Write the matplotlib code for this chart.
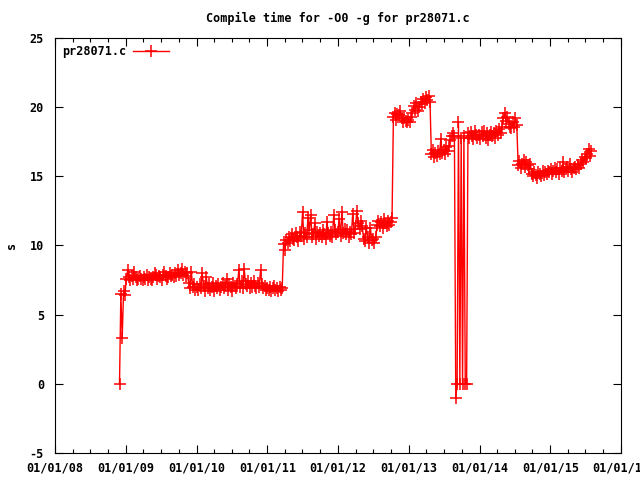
import pandas as pd
import numpy as np
import matplotlib.pyplot as plt
import matplotlib.dates as mdates

# weekly compile times (s), one list per year
start_2008 = "2008-11-29"
t_2008 = [0.0, 6.5, 3.3, 6.7, 6.4]

start_2009 = "2009-01-03"
t_2009 = [7.6, 8.2, 7.7, 7.5, 7.8, 7.6, 8.1, 7.7, 7.5, 7.6,
          7.8, 7.6, 7.5, 7.7, 7.6, 7.9, 7.5, 7.7, 7.6, 7.5,
          7.7, 8.0, 7.9, 7.6, 7.8, 7.7, 7.5, 7.9, 8.1, 7.8,
          7.6, 7.7, 8.0, 7.8, 7.9, 7.7, 8.0, 7.8, 8.2, 7.9,
          8.0, 8.3, 7.9, 8.1, 7.8, 8.0,
          7.3, 6.9, 8.1, 7.0, 7.2, 6.8]

start_2010 = "2010-01-02"
t_2010 = [7.0, 6.8, 7.2, 6.9, 8.0, 7.1, 6.7, 7.7, 6.9, 7.2,
          6.8, 7.0, 7.3, 6.7, 7.1, 6.9, 7.2, 6.8, 7.0, 7.3,
          6.9, 7.1, 7.6, 6.8, 7.2, 7.0, 6.7, 7.3, 7.1, 6.9,
          7.2, 8.2, 7.0, 7.4, 6.9, 8.3, 7.2, 7.1, 7.4, 6.9,
          7.3, 7.0, 7.4, 7.1, 6.9, 7.3, 7.0, 8.2, 7.2, 6.9,
          7.1, 6.8]

start_2011 = "2011-01-01"
t_2011 = [6.9, 6.8, 7.0, 6.7, 6.9, 7.1, 6.8, 6.9, 6.7, 7.0, 6.8, 6.9,
          10.1, 9.7, 10.4, 10.2, 10.6, 10.3, 10.8, 10.5,
          10.4, 10.9, 10.6, 10.3, 11.0, 10.7, 12.4, 10.5, 10.9, 10.6,
          12.0, 11.1, 12.2, 10.6, 10.8, 11.6, 10.5, 11.0, 10.7, 10.9,
          10.6, 11.1, 10.8, 10.5, 11.7, 10.9, 10.7, 11.0, 10.6, 12.2, 11.1, 10.8]

start_2012 = "2011-12-31"
t_2012 = [11.0, 11.9, 10.7, 12.4, 10.9, 11.2, 10.8, 11.1, 10.6, 11.0, 10.8, 12.3, 10.9, 11.2,
          12.5, 11.6, 11.2, 11.8, 11.4,
          10.5, 10.3, 11.3, 10.6, 10.2, 11.3, 10.4, 10.5, 10.2, 10.6,
          11.5, 11.8, 11.4, 11.7, 11.3, 11.9, 11.6, 11.4, 11.8, 11.5, 11.7, 12.0,
          19.3, 19.6, 19.1, 19.5, 19.4, 19.7, 19.2, 18.9, 19.2, 19.0, 18.9]

start_2013 = "2012-12-29"
t_2013 = [19.1, 18.9, 19.3, 19.6,
          20.1, 19.8, 20.3, 19.7, 20.0,
          20.4, 20.2, 20.6, 20.3, 20.7, 20.5, 20.8, 20.4,
          16.6, 16.9, 16.4, 16.7, 16.5, 16.8, 16.6, 17.7,
          16.7, 16.9, 16.6, 17.1, 16.8, 17.2, 17.6, 17.9, 18.1,
          17.9, -1.0, 0.0, 18.9, 0.0, 17.8, 0.0, 17.9, 0.0, 0.0, 18.1,
          17.8, 18.2, 17.9, 17.7, 18.3, 18.0, 17.8]

start_2014 = "2013-12-28"
t_2014 = [18.0, 17.7, 18.2, 17.9, 18.3, 17.8, 18.1, 17.6, 18.0, 18.2,
          17.9, 18.1, 17.8, 18.3, 18.0,
          18.4, 18.1, 18.6, 19.2, 19.6,
          19.0, 19.3, 18.8, 18.6,
          18.5, 18.9, 18.6, 19.2, 18.7,
          15.8, 16.1, 15.6, 15.9, 16.2, 15.7, 16.0, 15.8, 15.5, 15.9,
          15.2, 15.0, 15.3, 15.1, 14.9, 15.3, 15.2, 15.0, 15.4, 15.1, 15.3, 15.2, 15.4]

start_2015 = "2014-12-27"
t_2015 = [15.3, 15.5, 15.2, 15.4, 15.6, 15.3, 15.5, 15.2, 15.6, 15.4,
          16.0, 15.3, 15.5, 15.7, 15.4, 15.9, 15.5, 15.3, 15.6,
          15.7, 15.5, 15.8, 15.6, 15.9,
          16.2, 16.0, 16.4, 16.3, 16.6, 17.0, 16.5, 16.8]

years = [(start_2008, t_2008), (start_2009, t_2009), (start_2010, t_2010),
         (start_2011, t_2011), (start_2012, t_2012), (start_2013, t_2013),
         (start_2014, t_2014), (start_2015, t_2015)]

frames = []
for start, vals in years:
    frames.append(pd.DataFrame({
        "date": pd.date_range(start, periods=len(vals), freq="7D"),
        "time": vals}))
df = pd.concat(frames, ignore_index=True)

font = dict(family="DejaVu Sans Mono", weight="bold", size=8.5)
plt.rcParams["font.family"] = "DejaVu Sans Mono"
plt.rcParams["font.weight"] = "bold"
plt.rcParams["font.size"] = 8.5
plt.rcParams["axes.unicode_minus"] = False

fig = plt.figure(figsize=(6.4, 4.8), dpi=100)
ax = fig.add_axes([55 / 640, 1 - 453 / 480, 566 / 640, 415 / 480])

ax.plot(df["date"], df["time"], color="red", lw=1.0, marker="+",
        ms=8, mew=1.1, label="pr28071.c")

ax.set_xlim(pd.Timestamp("2008-01-01"), pd.Timestamp("2016-01-01"))
ax.set_ylim(-5, 25)
ax.set_yticks(np.arange(-5, 26, 5))
ax.xaxis.set_major_locator(mdates.YearLocator())
ax.xaxis.set_major_formatter(mdates.DateFormatter("%m/%d/%y"))
ax.xaxis.set_minor_locator(mdates.MonthLocator(bymonth=[4, 7, 10]))

ax.tick_params(which="both", direction="in", top=True, right=True, width=0.8)
ax.tick_params(which="major", length=6)
ax.tick_params(which="minor", length=3)
ax.tick_params(axis="y", pad=8)
ax.tick_params(axis="x", pad=6)
for s in ax.spines.values():
    s.set_linewidth(0.8)

ax.legend(loc="upper left", frameon=False, markerfirst=False,
          handlelength=3.0, borderaxespad=0.2, handletextpad=0.6)

fig.text(338 / 640, 1 - 18 / 480, "Compile time for -O0 -g for pr28071.c",
         ha="center", va="center", **font)
fig.text(12 / 640, 1 - 245 / 480, "s", rotation=90, ha="center", va="center", **font)

fig.savefig("out.png", dpi=100)
